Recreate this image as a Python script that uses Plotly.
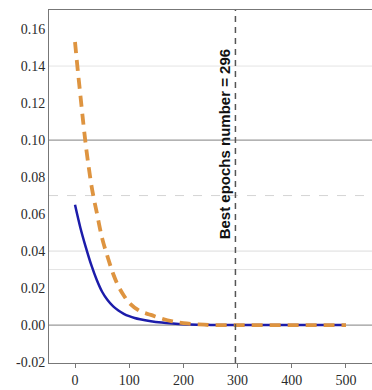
import plotly.graph_objects as go

# Data
epochs_blue = [0, 10, 20, 30, 40, 50, 60, 70, 80, 90, 100, 110, 120, 140, 160, 180, 200, 225, 250, 300, 350, 400, 450, 500]
loss_blue = [0.065, 0.0525, 0.042, 0.0325, 0.0245, 0.018, 0.0135, 0.0102, 0.0079, 0.0061, 0.0048, 0.0038, 0.0031,
             0.0021, 0.0014, 0.0009, 0.0005, 0.0002, 0.0001, 0.0, 0.0, 0.0, 0.0, 0.0]
epochs_orange = [0, 5, 10, 15, 20, 25, 30, 35, 40, 50, 60, 70, 80, 90, 100, 120, 140, 160, 180, 200, 225, 250, 300, 350, 400, 450, 500]
loss_orange = [0.153, 0.138, 0.124, 0.110, 0.097, 0.086, 0.076, 0.068, 0.061, 0.047, 0.037, 0.028, 0.021, 0.016,
               0.012, 0.0075, 0.0055, 0.0035, 0.002, 0.001, 0.0004, 0.0, 0.0, 0.0, 0.0, 0.0, 0.0]
best_epoch = 296
best_label = "Best epochs number = 296"
x_ticks = [0, 100, 200, 300, 400, 500]
y_ticks = [-0.02, 0.00, 0.02, 0.04, 0.06, 0.08, 0.10, 0.12, 0.14, 0.16]

fig = go.Figure()
fig.add_trace(go.Scatter(x=epochs_blue, y=loss_blue, mode="lines",
                         line=dict(color="#1c1caa", width=2.5, shape="spline", smoothing=1.0), showlegend=False))
fig.add_trace(go.Scatter(x=epochs_orange, y=loss_orange, mode="lines",
                         line=dict(color="#de9440", width=3.8, dash="11px,7px", shape="spline"), showlegend=False))

shapes = []
def hline(y, color, width=1, dash="solid"):
    shapes.append(dict(type="line", xref="paper", yref="y", x0=0, x1=1, y0=y, y1=y,
                       line=dict(color=color, width=width, dash=dash), layer="below"))
hline(0.10, "#9a9a9a", 1.2)
hline(0.00, "#9a9a9a", 1.2)
hline(0.14, "#e4e4e4", 1)
hline(0.04, "#dcdcdc", 1)
hline(0.03, "#e4e4e4", 1)
hline(0.07, "#d4d4d4", 1, "dash")
shapes.append(dict(type="line", xref="x", yref="paper", x0=best_epoch, x1=best_epoch, y0=0, y1=1,
                   line=dict(color="#555555", width=1.5, dash="6px,5px")))
fig.update_layout(shapes=shapes)

fig.add_annotation(x=276, y=0.098, xref="x", yref="y", text=best_label, textangle=-90, showarrow=False,
                   font=dict(family="Liberation Sans", size=15, color="#111111", weight="bold"))

tick_font = dict(family="Liberation Serif, Times New Roman, serif", size=14, color="#2b2b2b")
fig.update_xaxes(range=[-48, 548], tickmode="array", tickvals=x_ticks, ticktext=[str(v) for v in x_ticks],
                 showgrid=False, zeroline=False, showline=True, linecolor="#777777", linewidth=1, mirror=True,
                 ticks="outside", ticklen=4, tickcolor="#777777", tickfont=tick_font)
fig.update_yaxes(range=[-0.0205, 0.1703], tickmode="array", tickvals=y_ticks,
                 ticktext=[f"{v:.2f}" for v in y_ticks], showgrid=False,
                 zeroline=False, showline=True, linecolor="#777777", linewidth=1,
                 ticks="", tickfont=tick_font)
fig.update_layout(template="none", width=372, height=390, margin=dict(l=49, r=0, t=10, b=27),
                  font=dict(family="Liberation Serif, serif", size=14, color="#2b2b2b"),
                  plot_bgcolor="white", paper_bgcolor="white")
fig.write_html("out.html", config={"displayModeBar": False},
               post_script="document.body.style.margin='0';document.body.style.padding='0';")
